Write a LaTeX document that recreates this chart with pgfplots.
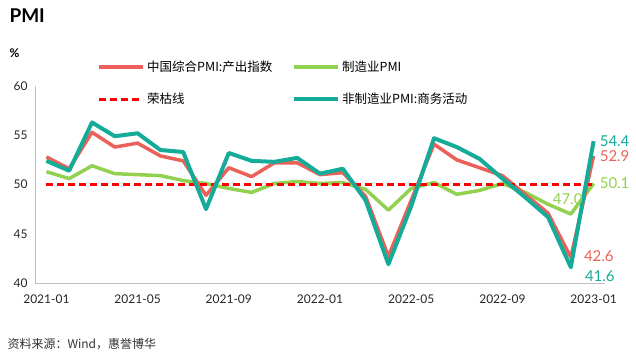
\documentclass[border=0pt]{standalone}
\usepackage{pgfplots}
\pgfplotsset{compat=1.18}
\usepackage{fontspec}
\setmainfont{Lato}
\newfontfamily\cjk{Noto Sans CJK SC}
\definecolor{cred}{HTML}{EB6159}
\definecolor{cgreen}{HTML}{92D050}
\definecolor{cteal}{HTML}{14AB98}
\definecolor{cdash}{HTML}{FF0000}
\begin{document}
\begin{tikzpicture}
\path[use as bounding box] (0,0) rectangle (636bp,364bp);
\node[anchor=west,font=\fontsize{19bp}{21bp}\selectfont\bfseries] at (6bp,348bp) {PMI};
\node[anchor=west,font=\fontsize{12bp}{14bp}\selectfont\bfseries] at (6bp,311bp) {\%};
\node[anchor=west,font=\fontsize{12bp}{14bp}\selectfont\cjk,text=black!80] at (4bp,20bp) {资料来源：Wind，惠誉博华};
\begin{axis}[
  at={(35bp,81bp)}, anchor=south west,
  scale only axis, width=570bp, height=197bp,
  xmin=-0.5, xmax=24.5, ymin=40, ymax=60,
  xtick={0,4,8,12,16,20,24},
  xticklabels={2021-01,2021-05,2021-09,2022-01,2022-05,2022-09,2023-01},
  ytick={40,45,50,55,60},
  axis x line*=bottom, axis y line*=left,
  axis line style={black!25, line width=0.8bp},
  x axis line style={-}, y axis line style={-},
  major tick length=0pt,
  tick label style={font=\fontsize{12bp}{14bp}\selectfont, text=black!85},
  /pgf/number format/assume math mode=true,
  xticklabel style={yshift=-8bp},
  yticklabel style={xshift=-4bp},
  clip=false,
  legend columns=2,
  legend style={at={(62bp,224bp)}, anchor=north west, draw=none, fill=none,
    font=\fontsize{12.5bp}{14bp}\selectfont\cjk, inner sep=0pt,
    /tikz/every even column/.append style={column sep=0bp},
    row sep=16bp},
  legend cell align=left,
  legend image code/.code={\draw[#1] (0bp,0bp) -- (44bp,0bp);},
]
\addlegendimage{cred, line width=4bp}
\addlegendentry{\makebox[143bp][l]{中国综合PMI:产出指数}}
\addlegendimage{cgreen, line width=4bp}
\addlegendentry{制造业PMI}
\addlegendimage{cdash, line width=3bp, dash pattern=on 7bp off 4bp}
\addlegendentry{荣枯线}
\addlegendimage{cteal, line width=4bp}
\addlegendentry{非制造业PMI:商务活动}

\addplot[forget plot, cgreen, line width=3.5bp, line join=round] coordinates {
(0,51.3) (1,50.6) (2,51.9) (3,51.1) (4,51.0) (5,50.9) (6,50.4) (7,50.1) (8,49.6) (9,49.2) (10,50.1) (11,50.3)
(12,50.1) (13,50.2) (14,49.5) (15,47.4) (16,49.6) (17,50.2) (18,49.0) (19,49.4) (20,50.1) (21,49.2) (22,48.0) (23,47.0) (24,50.1)};
\addplot[forget plot, cred, line width=3.5bp, line join=round] coordinates {
(0,52.8) (1,51.6) (2,55.3) (3,53.8) (4,54.2) (5,52.9) (6,52.4) (7,48.9) (8,51.7) (9,50.8) (10,52.2) (11,52.2)
(12,51.0) (13,51.2) (14,48.8) (15,42.7) (16,48.4) (17,54.1) (18,52.5) (19,51.7) (20,50.9) (21,49.0) (22,47.1) (23,42.6) (24,52.9)};
\addplot[forget plot, cdash, line width=2.6bp, dash pattern=on 7bp off 4bp] coordinates {(0,50) (24,50)};
\addplot[forget plot, cteal, line width=4bp, line join=round] coordinates {
(0,52.4) (1,51.4) (2,56.3) (3,54.9) (4,55.2) (5,53.5) (6,53.3) (7,47.5) (8,53.2) (9,52.4) (10,52.3) (11,52.7)
(12,51.1) (13,51.6) (14,48.4) (15,41.9) (16,47.8) (17,54.7) (18,53.8) (19,52.6) (20,50.6) (21,48.7) (22,46.7) (23,41.6) (24,54.4)};

\node[anchor=west, text=cteal, font=\fontsize{15bp}{17bp}\selectfont, inner sep=0pt] at (axis cs:24,54.4) [xshift=6bp] {54.4};
\node[anchor=west, text=cred, font=\fontsize{15bp}{17bp}\selectfont, inner sep=0pt] at (axis cs:24,52.9) [xshift=6bp] {52.9};
\node[anchor=west, text=cgreen, font=\fontsize{15bp}{17bp}\selectfont, inner sep=0pt] at (axis cs:24,50.1) [xshift=6bp] {50.1};
\node[anchor=center, text=cgreen, font=\fontsize{15bp}{17bp}\selectfont, inner sep=0pt] at (axis cs:23,47.0) [xshift=-3bp, yshift=15bp] {47.0};
\node[anchor=west, text=cred, font=\fontsize{15bp}{17bp}\selectfont, inner sep=0pt] at (axis cs:23,42.6) [xshift=13bp, yshift=1bp] {42.6};
\node[anchor=west, text=cteal, font=\fontsize{15bp}{17bp}\selectfont, inner sep=0pt] at (axis cs:23,41.6) [xshift=14bp, yshift=-9bp] {41.6};
\end{axis}
\end{tikzpicture}
\end{document}
